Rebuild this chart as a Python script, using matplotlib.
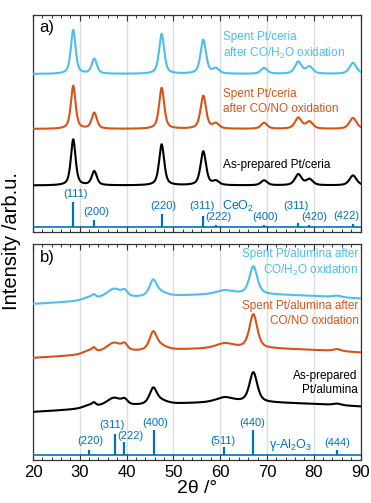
import numpy as np
import matplotlib
matplotlib.use("Agg")
import matplotlib.pyplot as plt

plt.rcParams["font.family"] = ["Liberation Sans", "DejaVu Sans"]
plt.rcParams["mathtext.default"] = "regular"

C_H2O = "#4DBEEE"
C_NO = "#D95319"
C_ASP = "#000000"
C_REF = "#0072BD"

# ---- Pt/ceria patterns: peak positions / widths / heights
ceria_pos = [28.6, 33.1, 47.5, 56.4, 59.1, 69.4, 76.7, 79.1, 88.4]
ceria_fwhm = [1.2, 1.3, 1.3, 1.4, 1.6, 1.6, 1.7, 1.7, 1.8]
ceria_asp_h = [46, 14, 41, 34, 4, 5, 11, 6, 10]
ceria_no_h = [43, 16, 41, 33, 5, 6, 11, 7, 11]
ceria_h2o_h = [44, 15, 40, 34, 5, 6, 12, 7, 11]
ceria_base = [46.5, 103, 158]  # as-prepared, CO/NO, CO/H2O

ceo2_ref_pos = [28.55, 33.08, 47.48, 56.33, 59.09, 69.4, 76.7, 79.07, 88.4]
ceo2_ref_int = [25, 7, 13, 11, 2, 2, 4, 2, 3]
ceo2_ref_labels = ["(111)", "(200)", "(220)", "(311)", "(222)", "(400)", "(311)", "(420)", "(422)"]
ceo2_label_x = [29.0, 33.5, 47.8, 56.2, 59.6, 69.7, 76.3, 80.2, 87.0]
ceo2_label_y = [38, 20, 26, 26, 15, 15, 26, 15, 16]

# ---- Pt/alumina patterns
alumina_pos = [32.0, 33.0, 37.3, 39.6, 45.7, 47.5, 61.0, 67.1, 85.0]
alumina_fwhm = [3.0, 0.9, 4.0, 1.4, 1.9, 3.0, 4.5, 2.0, 2.0]
alumina_asp_h = [3, 3, 9, 4.5, 16, 3, 5, 30, 1.5]
alumina_no_h = [3.5, 3.5, 10, 5.5, 18, 3.5, 5, 34, 2]
alumina_h2o_h = [3, 3, 10, 5, 16, 3, 4, 28, 1.5]
alumina_base = [43, 97, 151]
# broad amorphous background hump: centre, fwhm, height
alumina_bg = [65, 75, 15]

al2o3_ref_pos = [31.9, 37.6, 39.5, 45.8, 60.9, 67.0, 85.0]
al2o3_ref_int = [5.7, 21, 13.7, 25.7, 8.3, 25.7, 5.7]
al2o3_ref_labels = ["(220)", "(311)", "(222)", "(400)", "(511)", "(440)", "(444)"]
al2o3_label_x = [32.2, 36.9, 40.8, 46.1, 60.5, 66.9, 85.1]
al2o3_label_y = [19, 35.5, 24, 37.5, 19, 37.5, 17.5]

two_theta = np.linspace(20, 90, 1400)


def pseudo_voigt(x, pos, fwhm, h, eta=0.6):
    y = np.zeros_like(x)
    for p, w, a in zip(pos, fwhm, h):
        g = np.exp(-4 * np.log(2) * ((x - p) / w) ** 2)
        lor = 1 / (1 + ((x - p) / (w / 2)) ** 2)
        y += a * (eta * lor + (1 - eta) * g)
    return y


def hump(x, centre, fwhm, h):
    return h * np.exp(-4 * np.log(2) * ((x - centre) / fwhm) ** 2)


def style_axis(ax, top):
    ax.set_xlim(20, 90)
    ax.set_ylim(0, top)
    ax.set_yticks([])
    ax.set_xticks(np.arange(20, 91, 10))
    ax.set_xticks(np.arange(20, 91, 2), minor=True)
    ax.grid(axis="x", which="major", color="#dddddd", lw=1.0, zorder=0)
    ax.tick_params(axis="x", which="both", direction="in", top=True, bottom=True, color="#333333")
    ax.tick_params(axis="x", which="major", length=4, width=0.8, labelsize=12, pad=3)
    ax.tick_params(axis="x", which="minor", length=2.5, width=0.7)
    for sp in ax.spines.values():
        sp.set_color("#333333")
        sp.set_linewidth(0.9)


fig = plt.figure(figsize=(3.71, 5.03), dpi=100)
ax_a = fig.add_axes([0.0889, 0.5388, 0.8828, 0.4314])
ax_b = fig.add_axes([0.0889, 0.0845, 0.8828, 0.4304])

# panel a
for h, base, col in zip([ceria_asp_h, ceria_no_h, ceria_h2o_h], ceria_base, [C_ASP, C_NO, C_H2O]):
    ax_a.plot(two_theta, base + pseudo_voigt(two_theta, ceria_pos, ceria_fwhm, h), color=col, lw=1.5, zorder=3)
ax_a.axhline(5, color=C_REF, lw=1.2, zorder=3)
ax_a.vlines(ceo2_ref_pos, 5, [5 + v for v in ceo2_ref_int], color=C_REF, lw=1.6, zorder=3)
for lx, ly, lab in zip(ceo2_label_x, ceo2_label_y, ceo2_ref_labels):
    ax_a.text(lx, ly, lab, color=C_REF, fontsize=8, ha="center", va="center")
ax_a.text(63.9, 26, "CeO$_2$", color=C_REF, fontsize=9, ha="center", va="center")
ax_a.text(21.3, 204, "a)", fontsize=12, ha="left", va="center")
ax_a.text(60.7, 186, "Spent Pt/ceria\nafter CO/H$_2$O oxidation", color=C_H2O, fontsize=8.5,
          ha="left", va="center", linespacing=1.3)
ax_a.text(60.7, 130.5, "Spent Pt/ceria\nafter CO/NO oxidation", color=C_NO, fontsize=8.5,
          ha="left", va="center", linespacing=1.3)
ax_a.text(60.7, 67, "As-prepared Pt/ceria", color=C_ASP, fontsize=8.5, ha="left", va="center")
style_axis(ax_a, 217)
ax_a.tick_params(axis="x", labelbottom=False)

# panel b
bg = hump(two_theta, *alumina_bg)
for h, base, col in zip([alumina_asp_h, alumina_no_h, alumina_h2o_h], alumina_base, [C_ASP, C_NO, C_H2O]):
    ax_b.plot(two_theta, base + bg + pseudo_voigt(two_theta, alumina_pos, alumina_fwhm, h), color=col, lw=1.5, zorder=3)
ax_b.axhline(5, color=C_REF, lw=1.2, zorder=3)
ax_b.vlines(al2o3_ref_pos, 5, [5 + v for v in al2o3_ref_int], color=C_REF, lw=1.6, zorder=3)
for lx, ly, lab in zip(al2o3_label_x, al2o3_label_y, al2o3_ref_labels):
    ax_b.text(lx, ly, lab, color=C_REF, fontsize=8, ha="center", va="center")
ax_b.text(75.0, 15.5, "γ-Al$_2$O$_3$", color=C_REF, fontsize=9, ha="center", va="center")
ax_b.text(21.5, 203.5, "b)", fontsize=12, ha="left", va="center")
ax_b.text(89.6, 197.6, "Spent Pt/alumina after\nCO/H$_2$O oxidation", color=C_H2O, fontsize=8.5,
          ha="right", va="center", multialignment="right", linespacing=1.3)
ax_b.text(89.6, 147.3, "Spent Pt/alumina after\nCO/NO oxidation", color=C_NO, fontsize=8.5,
          ha="right", va="center", multialignment="right", linespacing=1.3)
ax_b.text(89.4, 77.5, "As-prepared\nPt/alumina", color=C_ASP, fontsize=8.5,
          ha="right", va="center", multialignment="right", linespacing=1.3)
style_axis(ax_b, 216.5)
ax_b.set_xlabel("2θ /°", fontsize=14, labelpad=0)

fig.text(12 / 371, 1 - 241 / 503, "Intensity /arb.u.", rotation=90, fontsize=14.5, ha="center", va="center")

fig.savefig("out.png", dpi=100)
